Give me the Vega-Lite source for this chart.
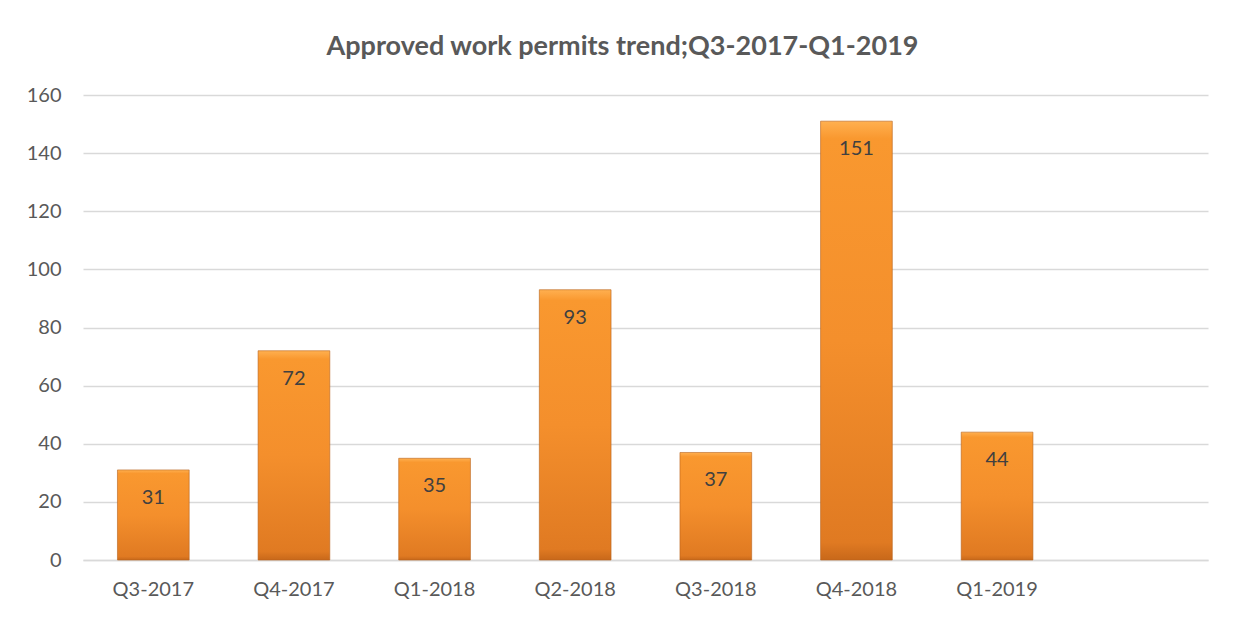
{
  "$schema": "https://vega.github.io/schema/vega-lite/v6.json",
  "width": 1125,
  "height": 465,
  "autosize": {"type": "none"},
  "padding": {"left": 83, "top": 95, "right": 26, "bottom": 57},
  "background": "white",
  "title": {
    "text": "Approved work permits trend;Q3-2017-Q1-2019",
    "font": "Lato",
    "fontSize": 27,
    "fontWeight": "bold",
    "color": "#595959",
    "anchor": "middle",
    "dx": -23,
    "offset": 24
  },
  "data": {
    "values": [
      {"quarter": "Q3-2017", "permits": 31},
      {"quarter": "Q4-2017", "permits": 72},
      {"quarter": "Q1-2018", "permits": 35},
      {"quarter": "Q2-2018", "permits": 93},
      {"quarter": "Q3-2018", "permits": 37},
      {"quarter": "Q4-2018", "permits": 151},
      {"quarter": "Q1-2019", "permits": 44}
    ]
  },
  "encoding": {
    "x": {
      "field": "quarter",
      "type": "nominal",
      "sort": null,
      "scale": {
        "domain": ["Q3-2017", "Q4-2017", "Q1-2018", "Q2-2018", "Q3-2018", "Q4-2018", "Q1-2019", " "],
        "paddingInner": 0.49,
        "paddingOuter": 0.245
      },
      "axis": {
        "title": null,
        "labelAngle": 0,
        "labelFont": "Lato",
        "labelFontSize": 20,
        "labelColor": "#595959",
        "labelPadding": 19,
        "ticks": false,
        "domain": true,
        "domainColor": "#D9D9D9",
        "domainWidth": 1.3,
        "grid": false
      }
    },
    "y": {
      "field": "permits",
      "type": "quantitative",
      "scale": {"domain": [0, 160]},
      "axis": {
        "title": null,
        "values": [0, 20, 40, 60, 80, 100, 120, 140, 160],
        "labelFont": "Lato",
        "labelFontSize": 20,
        "labelColor": "#595959",
        "labelPadding": 22,
        "ticks": false,
        "domain": false,
        "grid": true,
        "gridColor": "#D9D9D9",
        "gridWidth": 1.3
      }
    }
  },
  "layer": [
    {
      "mark": {
        "type": "bar",
        "stroke": "#B8621C",
        "strokeWidth": 1,
        "strokeOpacity": 0.6,
        "color": {
          "gradient": "linear",
          "x1": 0, "y1": 0, "x2": 0, "y2": 1,
          "stops": [
            {"offset": 0, "color": "#FFB050"},
            {"offset": 0.04, "color": "#F9982F"},
            {"offset": 0.5, "color": "#F48F2C"},
            {"offset": 0.96, "color": "#E07A22"},
            {"offset": 1, "color": "#C8681A"}
          ]
        }
      }
    },
    {
      "mark": {
        "type": "text",
        "baseline": "middle",
        "dy": 28,
        "font": "Lato",
        "fontSize": 20,
        "color": "#404040"
      },
      "encoding": {
        "text": {"field": "permits", "type": "quantitative"}
      }
    }
  ],
  "config": {
    "view": {"stroke": null}
  }
}
